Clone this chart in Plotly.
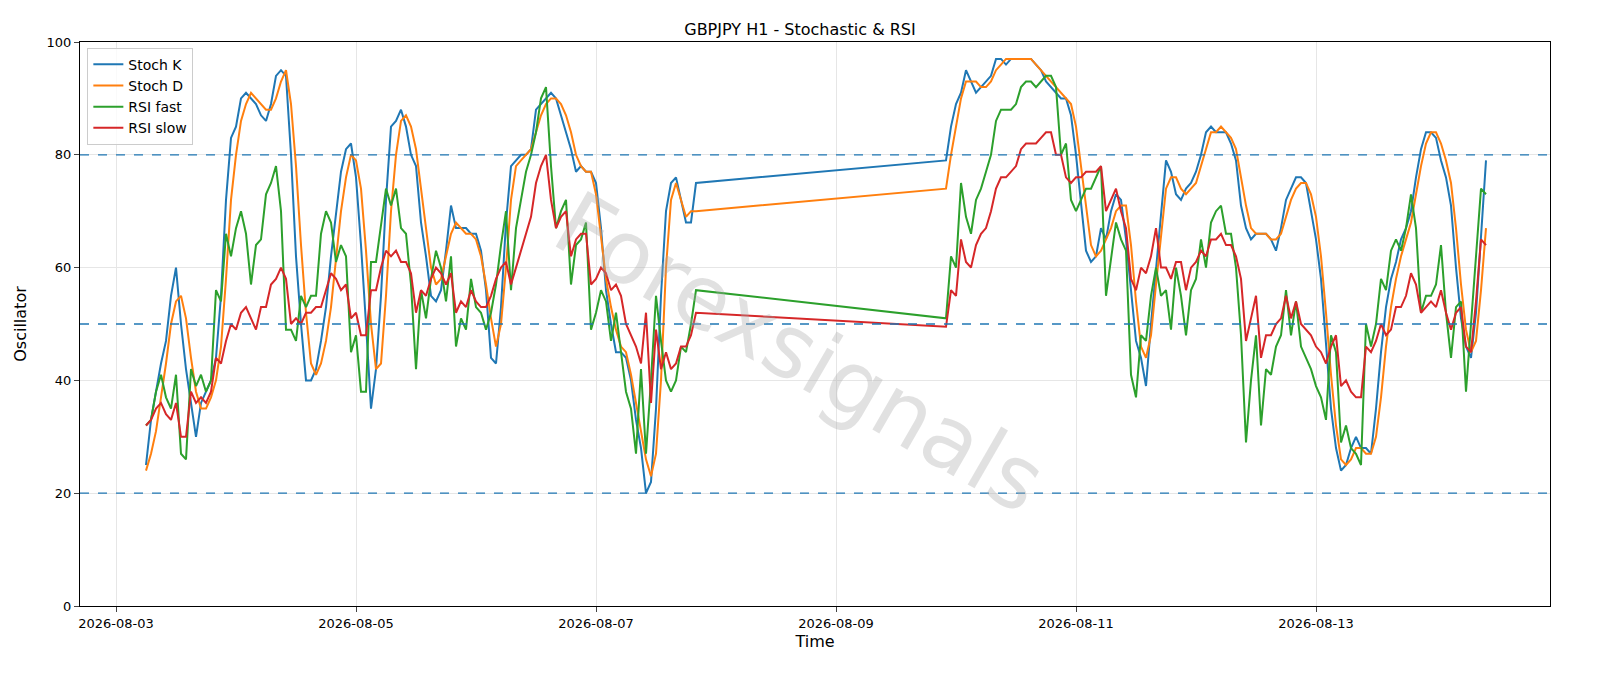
import pandas as pd
import plotly.graph_objects as go

# Segment 1: starts 2026-08-03 06:00 hourly; Segment 2: starts 2026-08-09 22:00 hourly
seg1_start = "2026-08-03 06:00"
seg2_start = "2026-08-09 22:00"

k1 = [25,33,38,43,47,55,60,50,42,36, 30,36,38,40,44,55,72,83,85,90,
      91,90,89,87,86,89,94,95,94,80, 62,50,40,40,42,47,53,62,70,77,
      81,82,76,64,50,35,42,55,72,85, 86,88,85,80,78,68,62,55,54,56,
      63,71,67,67,67,66,66,63,56,44, 43,53,68,78,79,80,80,81,88,89,
      90,91,90,87,84,81,77,78,77,77, 75,67,56,50,45,45,44,40,33,28,
      20,22,35,55,70,75,76,72,68,68, 75]
d1 = [24,27,31,37,43,50,54,55,51,44, 38,35,35,37,40,46,58,72,80,86,
      89,91,90,89,88,88,90,93,95,89, 78,64,52,43,41,43,47,53,61,70,
      76,80,79,74,63,50,42,43,55,70, 80,86,87,85,81,74,67,60,57,58,
      62,66,68,67,66,66,65,62,57,51, 46,50,60,72,78,79,80,81,84,87,
      89,90,90,89,87,84,80,78,77,77, 73,66,58,53,49,46,45,41,36,31,
      26,23,27,40,60,72,75,72,69,70, 70]
rf1 = [32,33,38,41,37,35,41,27,26,42, 39,41,38,40,56,54,66,62,67,70,
       66,57,64,65,73,75,78,70,49,49, 47,55,53,55,55,66,70,68,61,64,
       62,45,48,38,38,61,61,68,74,71, 74,67,66,57,42,56,51,58,63,60,
       54,62,46,51,49,58,53,52,49,52, 57,64,70,56,67,72,77,80,84,90,
       92,78,67,70,72,57,64,65,68,49, 52,56,54,47,52,45,38,35,27,42,
       27,40,55,47,40,38,40,46,45,50, 56]
rs1 = [32,33,35,36,34,33,36,30,30,38, 36,37,36,38,44,43,47,50,49,52,
       53,51,49,53,53,57,58,60,58,50, 51,50,52,52,53,53,56,59,58,56,
       57,51,52,48,48,56,56,60,63,62, 63,61,61,59,52,56,55,58,60,59,
       57,59,52,54,53,56,54,53,53,55, 58,60,61,57,60,63,66,69,75,78,
       80,72,67,69,70,62,65,66,66,57, 58,60,59,56,57,55,50,48,46,43,
       52,36,49,42,45,42,43,46,46,48, 52]

k2 = [79,85,89,91,95,93,91,92,93,94, 97,97,96,97,97,97,97,97,96,95,
      93,92,91,90,90,87,80,71,63,61, 62,67,65,70,73,72,65,56,47,44,
      39,50,60,70,79,77,73,72,74,75, 77,80,84,85,84,84,84,82,79,71,
      67,65,66,66,66,65,63,67,72,74, 76,76,75,70,65,58,46,35,28,24,
      25,28,30,28,28,27,35,45,53,58, 61,65,67,70,76,81,84,84,83,79,
      76,71,60,51,46,44,52,65,79]
d2 = [74,80,85,90,93,93,93,92,92,93, 95,96,97,97,97,97,97,97,96,95,
      94,93,92,91,90,89,85,78,70,64, 62,63,65,67,70,71,71,64,54,46,
      44,48,57,66,74,76,76,74,73,74, 75,78,81,84,84,85,84,83,81,76,
      71,67,66,66,66,65,65,66,69,72, 74,75,75,73,69,62,52,41,32,26,
      25,26,28,28,27,27,30,37,46,53, 58,62,65,68,73,78,82,84,84,82,
      79,75,67,57,49,45,47,56,67]
rf2 = [51,62,60,75,69,66,72,74,77,80, 86,88,88,88,89,92,93,93,92,93,
       94,94,92,80,82,72,70,72,74,74, 76,78,55,62,68,65,63,41,37,48,
       47,55,60,55,56,49,60,55,48,56, 58,65,60,68,70,71,66,66,60,48,
       29,40,48,32,42,41,46,48,56,48, 54,46,44,42,39,37,33,48,45,29,
       32,28,27,25,50,46,50,58,56,63, 65,63,67,73,67,52,55,55,57,64,
       52,44,53,54,38,50,62,74,73]
rs2 = [49.5,56,55,65,61,60,64,66,67,70, 74,76,76,77,78,81,82,82,82,83,
       84,84,80,80,76,75,76,76,77,77, 77,78,70,72,74,70,67,58,56,60,
       59,62,67,60,60,58,61,61,56,60, 61,63,62,65,65,66,64,64,62,58,
       47,51,55,44,48,48,50,51,55,51, 54,50,49,48,46,45,43,46,48,39,
       40,38,37,37,46,45,47,50,48,49, 53,53,55,59,57,52,53,54,53,56,
       52,49,52,53,46,45,54,65,64]

y_ticks = [0, 20, 40, 60, 80, 100]
x_ticks = ["2026-08-03", "2026-08-05", "2026-08-07", "2026-08-09",
           "2026-08-11", "2026-08-13"]
levels = [20, 50, 80]


def times(a, b):
    return list(pd.date_range(seg1_start, periods=len(a), freq="h")) + \
        list(pd.date_range(seg2_start, periods=len(b), freq="h"))


fig = go.Figure()
series = [("Stoch K", k1, k2, "#1f77b4"), ("Stoch D", d1, d2, "#ff7f0e"),
          ("RSI fast", rf1, rf2, "#2ca02c"), ("RSI slow", rs1, rs2, "#d62728")]
for name, a, b, c in series:
    fig.add_trace(go.Scatter(x=times(a, b), y=a + b, mode="lines", name=name,
                             line=dict(color=c, width=2)))

for lv in levels:
    fig.add_hline(y=lv, line=dict(color="#1f77b4", width=1.3, dash="dash"))

fig.add_annotation(text="Forexsignals", x=0.49, y=0.45, xref="paper", yref="paper",
                   showarrow=False, textangle=30,
                   font=dict(size=88, color="rgba(170,170,170,0.35)", family="DejaVu Sans"))

fig.update_layout(
    autosize=True, plot_bgcolor="white", paper_bgcolor="white",
    margin=dict(l=80, r=50, t=42, b=80),
    title=dict(text="GBPJPY H1 - Stochastic & RSI", x=0.5, y=0.965, xanchor="center",
               font=dict(size=16, color="black", family="DejaVu Sans")),
    font=dict(family="DejaVu Sans", size=13, color="black"),
    legend=dict(x=0.005, y=0.99, xanchor="left", yanchor="top", bgcolor="rgba(255,255,255,0.8)",
                bordercolor="#cccccc", borderwidth=1, font=dict(size=14)),
    showlegend=True,
)
fig.update_xaxes(range=["2026-08-02 16:48", "2026-08-14 22:48"], tickvals=x_ticks,
                 ticktext=x_ticks, showgrid=True, gridcolor="#e6e6e6", showline=True,
                 linecolor="black", mirror=True, ticks="outside", title=dict(text="Time", standoff=6),
                 zeroline=False)
fig.update_yaxes(range=[0, 100], tickvals=y_ticks, showgrid=True, gridcolor="#e6e6e6",
                 showline=True, linecolor="black", mirror=True, ticks="outside",
                 title=dict(text="Oscillator"), zeroline=False)

post = ("document.body.style.margin='0';document.body.style.overflow='hidden';"
        "document.documentElement.style.overflow='hidden';"
        "var gd=document.getElementById('{plot_id}');gd.style.width='100vw';gd.style.height='100vh';"
        "Plotly.Plots.resize(gd);")
fig.write_html("out.html", default_width="100vw", default_height="100vh",
               config={"displayModeBar": False, "responsive": True}, post_script=post)
